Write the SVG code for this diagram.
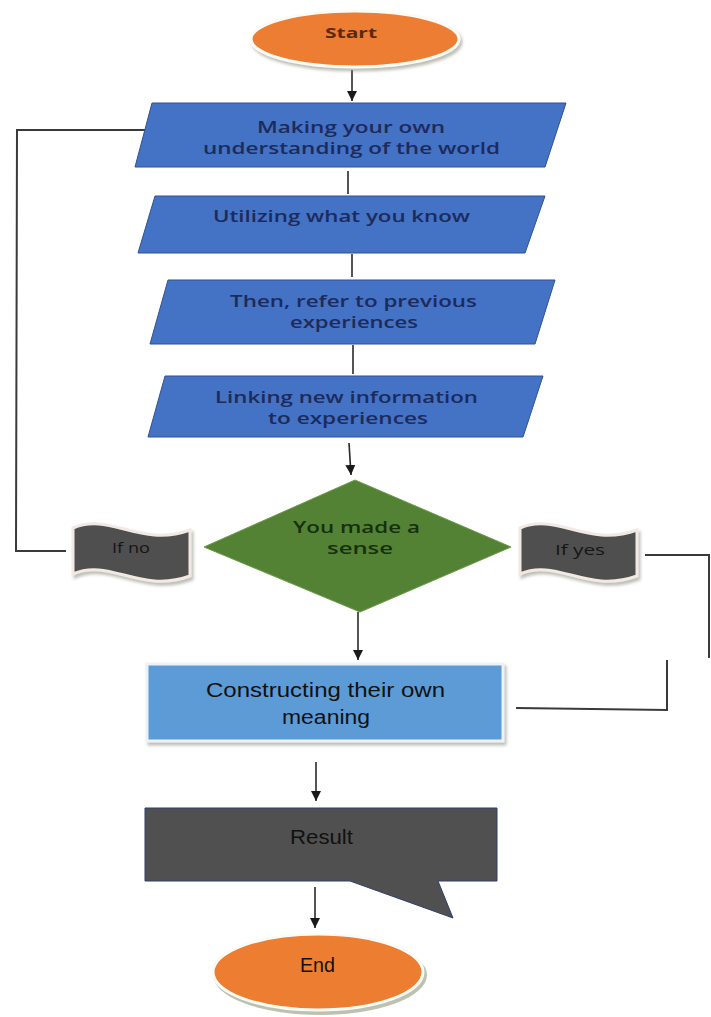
<svg xmlns="http://www.w3.org/2000/svg" width="711" height="1017" viewBox="0 0 711 1017">
  <defs>
    <marker id="arrow" markerUnits="userSpaceOnUse" markerWidth="10" markerHeight="10" refX="10" refY="5" orient="auto">
      <path d="M0,0 L10,5 L0,10 Z" fill="#1a1a1a"/>
    </marker>
    <filter id="soft" x="-10%" y="-10%" width="125%" height="130%">
      <feDropShadow dx="2" dy="3" stdDeviation="1.5" flood-color="#8a8a80" flood-opacity="0.55"/>
    </filter>
    <style>
      .para { fill: #4472c4; stroke: #2f528f; stroke-width: 1; }
      .para-text { font-family: "Open Sans", "Liberation Sans", sans-serif; font-weight: 600; font-size: 15.5px; fill: #1c2b5c; text-anchor: middle; }
      .term { fill: #ed7d31; stroke: #fbfbf6; stroke-width: 3; }
      .flag { fill: #505050; stroke: #f2e9e4; stroke-width: 3; }
      .flag-text { font-family: "Open Sans", "Liberation Sans", sans-serif; font-size: 14px; fill: #151515; text-anchor: middle; }
      .plain-text { font-family: "Liberation Sans", "Open Sans", sans-serif; font-size: 20px; fill: #111111; text-anchor: middle; }
      .link { fill: none; stroke: #2a2a2a; stroke-width: 1.6; }
      .loop { fill: none; stroke: #3a3a3a; stroke-width: 2; }
    </style>
  </defs>

  <rect x="0" y="0" width="711" height="1017" fill="#ffffff"/>

  <!-- connectors -->
  <g id="connectors">
    <line class="link" x1="352" y1="70" x2="352" y2="101" marker-end="url(#arrow)"/>
    <line class="link" x1="348" y1="171" x2="348" y2="194"/>
    <line class="link" x1="352" y1="254" x2="352" y2="277"/>
    <line class="link" x1="353" y1="345" x2="353" y2="374"/>
    <line class="link" x1="349" y1="443" x2="351" y2="475" marker-end="url(#arrow)"/>
    <line class="link" x1="358" y1="612" x2="358" y2="660" marker-end="url(#arrow)"/>
    <line class="link" x1="316" y1="762" x2="316" y2="801" marker-end="url(#arrow)"/>
    <line class="link" x1="315" y1="887" x2="315" y2="928" marker-end="url(#arrow)"/>
    <!-- "if no" loop back to the first step -->
    <polyline class="loop" points="66,551 16,551 17,130 148,130"/>
    <!-- "if yes" route to the meaning box -->
    <polyline class="loop" points="645,555 709,555 709,658"/>
    <polyline class="loop" points="667,660 667,710 516,708"/>
  </g>

  <!-- Start -->
  <g id="start">
    <ellipse class="term" cx="355" cy="39" rx="104" ry="28" filter="url(#soft)"/>
    <text x="351" y="38" textLength="52" lengthAdjust="spacingAndGlyphs" style="font-family:'Open Sans','Liberation Sans',sans-serif;font-weight:700;font-size:15px;fill:#5a2a10;text-anchor:middle">Start</text>
  </g>

  <!-- Step 1 -->
  <g id="step-making">
    <polygon class="para" points="152,103 566,103 545,167 135,167"/>
    <text class="para-text" x="351" y="133" textLength="188" lengthAdjust="spacingAndGlyphs">Making your own</text>
    <text class="para-text" x="351.5" y="154" textLength="297" lengthAdjust="spacingAndGlyphs">understanding of the world</text>
  </g>

  <!-- Step 2 -->
  <g id="step-utilizing">
    <polygon class="para" points="155,196 545,196 525,253 138,253"/>
    <text class="para-text" x="341.5" y="222" textLength="257" lengthAdjust="spacingAndGlyphs">Utilizing what you know</text>
  </g>

  <!-- Step 3 -->
  <g id="step-refer">
    <polygon class="para" points="168,280 555,280 535,344 150,344"/>
    <text class="para-text" x="353.5" y="307" textLength="247" lengthAdjust="spacingAndGlyphs">Then, refer to previous</text>
    <text class="para-text" x="354" y="328" textLength="128" lengthAdjust="spacingAndGlyphs">experiences</text>
  </g>

  <!-- Step 4 -->
  <g id="step-linking">
    <polygon class="para" points="165,376 543,376 523,437 148,437"/>
    <text class="para-text" x="346.5" y="403" textLength="263" lengthAdjust="spacingAndGlyphs">Linking new information</text>
    <text class="para-text" x="348" y="424" textLength="160" lengthAdjust="spacingAndGlyphs">to experiences</text>
  </g>

  <!-- Decision -->
  <g id="decision">
    <polygon points="355,480 511,547 360,612 204,547" fill="#548235" stroke="#6a9a48" stroke-width="1"/>
    <text x="356.5" y="533" textLength="127" lengthAdjust="spacingAndGlyphs" style="font-family:'Open Sans','Liberation Sans',sans-serif;font-weight:600;font-size:15.5px;fill:#17300c;text-anchor:middle">You made a</text>
    <text x="360" y="554" textLength="66" lengthAdjust="spacingAndGlyphs" style="font-family:'Open Sans','Liberation Sans',sans-serif;font-weight:600;font-size:15.5px;fill:#17300c;text-anchor:middle">sense</text>
  </g>

  <!-- If no -->
  <g id="if-no">
    <path class="flag" filter="url(#soft)" d="M73,528 C110,512 140,548 190,530 L190,576 C140,594 110,558 73,574 Z"/>
    <text class="flag-text" x="131" y="553" textLength="38" lengthAdjust="spacingAndGlyphs">If no</text>
  </g>

  <!-- If yes -->
  <g id="if-yes">
    <path class="flag" filter="url(#soft)" d="M520,528 C557,512 587,548 637,530 L637,576 C587,594 557,558 520,574 Z"/>
    <text class="flag-text" x="580" y="555" textLength="50" lengthAdjust="spacingAndGlyphs">If yes</text>
  </g>

  <!-- Constructing meaning -->
  <g id="constructing">
    <rect x="147" y="664" width="356" height="77" fill="#5b9bd5" stroke="#eef2f8" stroke-width="3" filter="url(#soft)"/>
    <text class="plain-text" x="325.5" y="697" textLength="239" lengthAdjust="spacingAndGlyphs">Constructing their own</text>
    <text class="plain-text" x="326" y="724" textLength="88" lengthAdjust="spacingAndGlyphs">meaning</text>
  </g>

  <!-- Result callout -->
  <g id="result">
    <path d="M145,808 L497,808 L497,881 L438,881 L453,918 L350,881 L145,881 Z" fill="#505050" stroke="#2f3f6f" stroke-width="1"/>
    <text class="plain-text" x="321.5" y="844" textLength="63" lengthAdjust="spacingAndGlyphs">Result</text>
  </g>

  <!-- End -->
  <g id="end">
    <ellipse cx="320" cy="975" rx="107" ry="40" fill="#8f9a7e" opacity="0.6"/>
    <ellipse class="term" cx="318" cy="972" rx="105" ry="38"/>
    <text class="plain-text" x="317.5" y="972" textLength="35" lengthAdjust="spacingAndGlyphs">End</text>
  </g>
</svg>
